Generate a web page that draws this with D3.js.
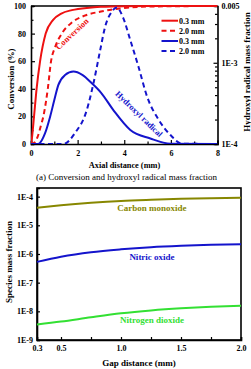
<!DOCTYPE html>
<html><head><meta charset="utf-8">
<script src="https://cdn.jsdelivr.net/npm/d3@7/dist/d3.min.js"></script>
<style>
html,body{margin:0;padding:0;background:#fff;}
svg{display:block;font-family:"Liberation Serif","Times New Roman",serif;}
</style></head>
<body>
<svg id="c" width="251" height="369"></svg>
<script>
// ---- Top chart data: axial distance (mm) ----
const conv03X = [0, 0.03, 0.13, 0.24, 0.39, 0.63, 0.95, 1.3, 1.75, 2.5, 3.0, 4.0, 5.0, 8.0];
const conv03Y = [0, 3, 20, 40, 60, 80, 90, 94.5, 97, 98.8, 99.4, 99.9, 100, 100];
const conv20X = [0, 0.15, 0.3, 0.42, 0.53, 0.72, 0.86, 1.03, 1.32, 1.75, 2.3, 3.0, 3.5, 4.0, 5.0, 8.0];
const conv20Y = [0, 1, 6, 13, 20, 40, 60, 70, 80, 88, 93, 96, 97.5, 98.5, 99.6, 100];
const oh03X = [0, 0.31, 0.6, 0.82, 1.0, 1.17, 1.46, 1.82, 2.2, 2.61, 3.0, 3.54, 4.26, 5.12, 5.98, 8];
const oh03Y = [1e-4, 1e-4, 1.35e-4, 2.17e-4, 3.48e-4, 5.3e-4, 7.07e-4, 7.8e-4, 7.1e-4, 5.6e-4, 4.3e-4, 2.6e-4, 1.49e-4, 1.17e-4, 1.01e-4, 1e-4];
const oh20X = [0, 1.39, 1.89, 2.39, 2.68, 2.97, 3.18, 3.45, 3.68, 3.95, 4.26, 4.61, 4.98, 5.48, 5.98, 6.48, 8];
const oh20Y = [1e-4, 1e-4, 1.37e-4, 2.6e-4, 5.6e-4, 1.44e-3, 2.78e-3, 4.2e-3, 4.8e-3, 3.6e-3, 1.9e-3, 8.95e-4, 3.83e-4, 1.98e-4, 1.29e-4, 1.01e-4, 1e-4];
const legendLabels = ["0.3 mm", "2.0 mm", "0.3 mm", "2.0 mm"];
const topXTicks = [0, 2, 4, 6, 8];
const topYTicks = [0, 20, 40, 60, 80, 100];
const topRightTicks = [1e-4, 1e-3, 5e-3];
const topRightLabels = ["1E-4", "1E-3", "0.005"];

// ---- Bottom chart data: gap distance (mm) ----
const gap = [0.3, 0.5, 0.75, 1.0, 1.25, 1.5, 1.75, 2.0];
const coVals  = [4.1e-5, 5.0e-5, 6.1e-5, 7.1e-5, 7.8e-5, 8.4e-5, 8.8e-5, 9.1e-5];
const noVals  = [5.3e-7, 8.0e-7, 1.15e-6, 1.45e-6, 1.72e-6, 1.93e-6, 2.1e-6, 2.2e-6];
const no2Vals = [3.5e-9, 4.4e-9, 6.2e-9, 8.5e-9, 1.07e-8, 1.27e-8, 1.44e-8, 1.57e-8];
const botXTickLabels = [0.3, 0.5, 1.0, 1.5, 2.0];
const botXMinor = [0.75, 1.25, 1.75];
const botYTicks = [1e-9, 1e-8, 1e-7, 1e-6, 1e-5, 1e-4];
const botYLabels = ["1E-9", "1E-8", "1E-7", "1E-6", "1E-5", "1E-4"];

const RED = "#ee1111", BLUE = "#1414cc", OLIVE = "#878700", GREEN = "#33e033";
const svg = d3.select("#c");

// ================= TOP CHART =================
const t = {l: 31, r: 217.5, t: 6, b: 144};
const xT = d3.scaleLinear().domain([0, 8]).range([t.l, t.r]);
const yL = d3.scaleLinear().domain([0, 100]).range([t.b, t.t]);
const yR = d3.scaleLog().domain([1e-4, 5e-3]).range([t.b, t.t]).clamp(true);

const gT = svg.append("g");
// axes with inward ticks
const axB = gT.append("g").attr("transform", `translate(0,${t.b})`)
  .call(d3.axisBottom(xT).tickValues(d3.range(0, 9, 1)).tickSize(-3).tickPadding(6)
    .tickFormat(d => topXTicks.includes(d) ? d : ""));
const axL = gT.append("g").attr("transform", `translate(${t.l},0)`)
  .call(d3.axisLeft(yL).tickValues(d3.range(0, 101, 10)).tickSize(-3).tickPadding(5)
    .tickFormat(d => topYTicks.includes(d) ? d : ""));
const axR = gT.append("g").attr("transform", `translate(${t.r},0)`)
  .call(d3.axisRight(yR).tickValues([1e-4,2e-4,3e-4,4e-4,5e-4,6e-4,7e-4,8e-4,9e-4,1e-3,2e-3,3e-3,4e-3,5e-3])
    .tickSize(-3).tickPadding(4)
    .tickFormat(d => { const i = topRightTicks.findIndex(v => Math.abs(v - d) / d < 1e-6); return i >= 0 ? topRightLabels[i] : ""; }));
[axB, axL, axR].forEach(a => {
  a.select(".domain").attr("stroke-width", 1.6);
  a.selectAll(".tick line").attr("stroke-width", 1.2);
  a.selectAll("text").attr("font-size", 8).attr("font-weight", "bold").attr("font-family", "Liberation Serif");
});
axL.selectAll(".tick line").attr("x2", d => topYTicks.includes(d) ? 4 : 2.5);
axB.selectAll(".tick line").attr("y2", d => topXTicks.includes(d) ? -4 : -2.5);
axR.selectAll(".tick line").attr("x2", d => topRightTicks.some(v => Math.abs(v - d) / d < 1e-6) ? -4 : -2.5);
gT.append("line").attr("x1", t.l).attr("x2", t.r).attr("y1", t.t).attr("y2", t.t).attr("stroke", "#000").attr("stroke-width", 1.6);

const clipT = svg.append("clipPath").attr("id", "clipT").append("rect")
  .attr("x", t.l).attr("y", t.t - 1).attr("width", t.r - t.l).attr("height", t.b - t.t + 1);
const curves = gT.append("g").attr("clip-path", "url(#clipT)");
const lineL = d3.line().x(d => xT(d[0])).y(d => yL(d[1])).curve(d3.curveMonotoneX);
const lineR = d3.line().x(d => xT(d[0])).y(d => yR(d[1])).curve(d3.curveMonotoneX);
const zip = (a, b) => a.map((v, i) => [v, b[i]]);
const series = [
  {d: zip(conv03X, conv03Y), line: lineL, c: RED, dash: null},
  {d: zip(conv20X, conv20Y), line: lineL, c: RED, dash: "5,3.5"},
  {d: zip(oh03X, oh03Y), line: lineR, c: BLUE, dash: null},
  {d: zip(oh20X, oh20Y), line: lineR, c: BLUE, dash: "5,3.5"}
];
series.forEach(s => {
  curves.append("path").attr("d", s.line(s.d)).attr("fill", "none")
    .attr("stroke", s.c).attr("stroke-width", 2).attr("stroke-dasharray", s.dash);
});
// legend
const legY = [20.7, 30.7, 41, 51];
series.forEach((s, i) => {
  gT.append("line").attr("x1", 161.5).attr("x2", 178).attr("y1", legY[i]).attr("y2", legY[i])
    .attr("stroke", s.c).attr("stroke-width", 2).attr("stroke-dasharray", s.dash);
  gT.append("text").attr("x", 179).attr("y", legY[i] + 3).attr("font-size", 8).attr("font-weight", "bold")
    .text(legendLabels[i]);
});
// annotations
gT.append("text").attr("transform", "translate(74,36) rotate(-43)").attr("text-anchor", "middle")
  .attr("font-size", 8.5).attr("font-weight", "bold").attr("fill", RED).text("Conversion");
gT.append("text").attr("transform", "translate(137,116) rotate(44)").attr("text-anchor", "middle")
  .attr("font-size", 8.5).attr("font-weight", "bold").attr("fill", BLUE).text("Hydroxyl radical");
// axis titles
gT.append("text").attr("transform", "translate(14,79) rotate(-90)").attr("text-anchor", "middle")
  .attr("font-size", 9).attr("font-weight", "bold").text("Conversion (%)");
gT.append("text").attr("transform", "translate(250,72) rotate(-90)").attr("text-anchor", "middle")
  .attr("font-size", 9).attr("font-weight", "bold").text("Hydroxyl radical mass fraction");
gT.append("text").attr("x", 124.5).attr("y", 168).attr("text-anchor", "middle")
  .attr("font-size", 8.3).attr("font-weight", "bold").text("Axial distance (mm)");
gT.append("text").attr("x", 126.5).attr("y", 180).attr("text-anchor", "middle")
  .attr("font-size", 9).text("(a) Conversion and hydroxyl radical mass fraction");

// ================= BOTTOM CHART =================
const b = {l: 37, r: 241, t: 188, b: 340};
const xB = d3.scaleLinear().domain([0.3, 2.0]).range([b.l, b.r]);
const yB = d3.scaleLog().domain([1e-9, 2e-4]).range([b.b, b.t]);
const gB = svg.append("g");
gB.append("rect").attr("x", b.l).attr("y", b.t).attr("width", b.r - b.l).attr("height", b.b - b.t)
  .attr("fill", "none").attr("stroke", "#000").attr("stroke-width", 1.6);
const bxAx = gB.append("g").attr("transform", `translate(0,${b.b})`)
  .call(d3.axisBottom(xB).tickValues(botXTickLabels.concat(botXMinor)).tickSize(-3).tickPadding(5)
    .tickFormat(d => botXTickLabels.includes(d) ? d3.format(".1f")(d) : ""));
const byAx = gB.append("g").attr("transform", `translate(${b.l},0)`)
  .call(d3.axisLeft(yB).tickValues(botYTicks).tickSize(-3).tickPadding(4)
    .tickFormat((d, i) => botYLabels[i]));
[bxAx, byAx].forEach(a => {
  a.select(".domain").attr("stroke-width", 1.6);
  a.selectAll(".tick line").attr("stroke-width", 1.2);
  a.selectAll("text").attr("font-size", 8).attr("font-weight", "bold").attr("font-family", "Liberation Serif");
});
bxAx.selectAll(".tick line").attr("y2", d => d === 0.3 ? 0 : -3);
const lineB = d3.line().x(d => xB(d[0])).y(d => yB(d[1])).curve(d3.curveMonotoneX);
[[coVals, OLIVE], [noVals, BLUE], [no2Vals, GREEN]].forEach(([v, c]) => {
  gB.append("path").attr("d", lineB(zip(gap, v))).attr("fill", "none").attr("stroke", c).attr("stroke-width", 2);
});
gB.append("text").attr("x", 152).attr("y", 211).attr("text-anchor", "middle").attr("font-size", 9)
  .attr("font-weight", "bold").attr("fill", OLIVE).text("Carbon monoxide");
gB.append("text").attr("x", 152).attr("y", 260).attr("text-anchor", "middle").attr("font-size", 9)
  .attr("font-weight", "bold").attr("fill", BLUE).text("Nitric oxide");
gB.append("text").attr("x", 152).attr("y", 323).attr("text-anchor", "middle").attr("font-size", 9)
  .attr("font-weight", "bold").attr("fill", GREEN).text("Nitrogen dioxide");
gB.append("text").attr("transform", "translate(12,262) rotate(-90)").attr("text-anchor", "middle")
  .attr("font-size", 9).attr("font-weight", "bold").text("Species mass fraction");
gB.append("text").attr("x", 139).attr("y", 366).attr("text-anchor", "middle")
  .attr("font-size", 9).attr("font-weight", "bold").text("Gap distance (mm)");
</script>
</body></html>
